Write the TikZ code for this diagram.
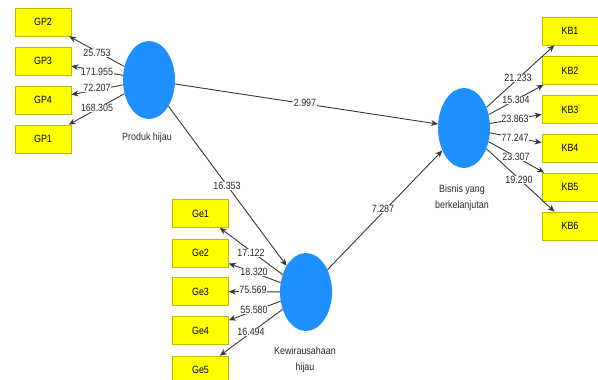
\documentclass[tikz,border=0pt]{standalone}
\usepackage{fontspec}
\setmainfont{Liberation Sans}[FakeStretch=0.85]
\usetikzlibrary{arrows.meta,shapes.geometric}
\definecolor{lvblue}{RGB}{30,144,255}
\definecolor{indyel}{RGB}{255,255,0}
\definecolor{indborder}{RGB}{190,190,0}
\definecolor{linegray}{RGB}{55,55,55}
\definecolor{txtgray}{RGB}{40,40,40}
\begin{document}
\begin{tikzpicture}[x=1pt,y=-1pt,
  indbox/.style={rectangle,draw=indborder,fill=indyel,line width=0.7pt,minimum width=56pt,minimum height=28pt,inner sep=0pt,font=\fontsize{10.5}{12}\selectfont,text=black},
  latent/.style={ellipse,fill=lvblue,draw=none,minimum width=52pt,minimum height=78pt,inner sep=0pt},
  conn/.style={draw=linegray,line width=0.9pt,-{Stealth[length=7pt,width=6pt]}},
  wlbl/.style={fill=white,inner sep=0.6pt,font=\fontsize{10.5}{12}\selectfont,text=txtgray},
  lvname/.style={font=\fontsize{10.5}{16}\selectfont,align=center,inner sep=0pt,text=txtgray}
]
\useasboundingbox (0,0) rectangle (598,380);
% latent variables
\node[latent] (ph) at (149,80) {};
\node[latent] (kh) at (306,292) {};
\node[latent,minimum height=80pt] (bb) at (464,128) {};
\node[lvname] (phl) at (147,138) {Produk hijau};
\node[lvname] (khl) at (305,360) {Kewirausahaan\\hijau};
\node[lvname] (bbl) at (462,198) {Bisnis yang\\berkelanjutan};
% indicators
\node[indbox] (gp2) at (43,22) {GP2};
\node[indbox] (gp3) at (43,61) {GP3};
\node[indbox] (gp4) at (43,100) {GP4};
\node[indbox] (gp1) at (43,139) {GP1};
\node[indbox] (ge1) at (200.5,213.5) {Ge1};
\node[indbox] (ge2) at (200.5,253) {Ge2};
\node[indbox] (ge3) at (200.5,291.5) {Ge3};
\node[indbox] (ge4) at (200.5,330.5) {Ge4};
\node[indbox] (ge5) at (200.5,370) {Ge5};
\node[indbox] (kb1) at (570,31) {KB1};
\node[indbox] (kb2) at (570,70.5) {KB2};
\node[indbox] (kb3) at (570,109.5) {KB3};
\node[indbox] (kb4) at (570,148) {KB4};
\node[indbox] (kb5) at (570,187) {KB5};
\node[indbox] (kb6) at (570,226) {KB6};
% connectors
\draw[conn] (ph) -- (gp2);
\draw[conn] (ph) -- (gp3);
\draw[conn] (ph) -- (gp4);
\draw[conn] (ph) -- (gp1);
\draw[conn] (kh) -- (ge1);
\draw[conn] (kh) -- (ge2);
\draw[conn] (kh) -- (ge3);
\draw[conn] (kh) -- (ge4);
\draw[conn] (kh) -- (ge5);
\draw[conn] (bb) -- (kb1);
\draw[conn] (bb) -- (kb2);
\draw[conn] (bb) -- (kb3);
\draw[conn] (bb) -- (kb4);
\draw[conn] (bb) -- (kb5);
\draw[conn] (bb) -- (kb6);
\draw[conn] (ph) -- (bb);
\draw[conn] (ph) -- (kh);
\draw[conn] (kh) -- (bb);
% labels
\node[wlbl] (l1) at (97,53) {25.753};
\node[wlbl] (l2) at (97,72) {171.955};
\node[wlbl] (l3) at (97,87.5) {72.207};
\node[wlbl] (l4) at (97,108) {168.305};
\node[wlbl] (l5) at (251,253) {17.122};
\node[wlbl] (l6) at (254,272) {18.320};
\node[wlbl] (l7) at (253,290) {75.569};
\node[wlbl] (l8) at (254,310) {55.580};
\node[wlbl] (l9) at (251,332) {16.494};
\node[wlbl] (l10) at (518,78) {21.233};
\node[wlbl] (l11) at (516,100) {15.304};
\node[wlbl] (l12) at (515,119) {23.863};
\node[wlbl] (l13) at (515,138) {77.247};
\node[wlbl] (l14) at (516,157) {23.307};
\node[wlbl] (l15) at (519,180) {19.290};
\node[wlbl] (l16) at (305,103) {2.997};
\node[wlbl] (l17) at (227,186) {16.353};
\node[wlbl] (l18) at (383,209) {7.287};
\end{tikzpicture}
\end{document}
